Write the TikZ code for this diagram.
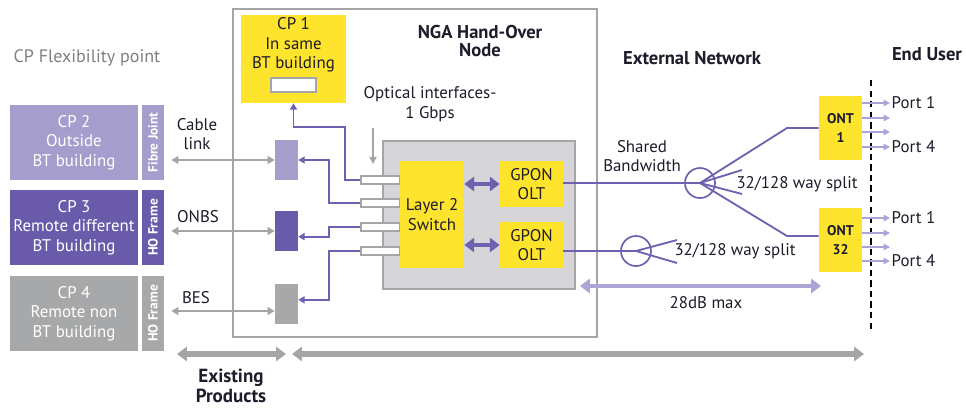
\documentclass[tikz,border=0pt]{standalone}
\usepackage{fontspec}
\setmainfont{PT Sans}
\usetikzlibrary{arrows.meta,positioning}

\definecolor{cplight}{RGB}{165,157,204}
\definecolor{cpdark}{RGB}{106,91,170}
\definecolor{cpgray}{RGB}{167,168,170}
\definecolor{btyellow}{RGB}{255,228,46}
\definecolor{fibrecol}{RGB}{112,96,176}
\definecolor{portcol}{RGB}{172,163,214}
\definecolor{linegray}{RGB}{165,165,167}
\definecolor{boxgray}{RGB}{214,214,216}
\definecolor{txt}{RGB}{28,28,42}

\begin{document}
\begin{tikzpicture}[x=0.025cm, y=-0.025cm,
  every node/.style={font=\fontsize{12}{13.8}\selectfont, text=txt},
  cp/.style={rectangle, align=center, text=white, inner sep=0pt,
             minimum width=3.2cm, minimum height=1.875cm},
  frame/.style={rectangle, text=white, inner sep=0pt, rotate=90,
                minimum width=1.875cm, minimum height=0.55cm,
                font=\fontsize{9.5}{11}\selectfont\bfseries},
  yel/.style={rectangle, fill=btyellow, align=center, inner sep=0pt},
  small/.style={rectangle, inner sep=0pt, minimum width=0.575cm, minimum height=1cm},
  port/.style={rectangle, draw=linegray, fill=white, line width=0.8pt, inner sep=0pt,
               minimum width=0.975cm, minimum height=0.2cm},
  head/.style={font=\fontsize{13.2}{13.2}\selectfont\bfseries},
  fibre/.style={draw=fibrecol, line width=1.3pt},
  tofib/.style={fibre, -{Triangle[width=5pt,length=4.5pt]}},
  link/.style={draw=linegray, line width=1.3pt,
               {Triangle[width=5.5pt,length=5pt]}-{Triangle[width=5.5pt,length=5pt]}},
  fat/.style={line width=3pt,
              {Triangle[width=10pt,length=7pt]}-{Triangle[width=10pt,length=7pt]}},
  portarrow/.style={draw=portcol, line width=1pt, -{Triangle[width=4.5pt,length=4.5pt]}}
]
\useasboundingbox (0,0) rectangle (966,408);

\node[text=gray, font=\fontsize{12.8}{14}\selectfont] (flex) at (87,58) {CP Flexibility point};

\node[cp, fill=cplight] (cp2) at (74,142.5) {CP 2\\Outside\\BT building};
\node[frame, fill=cplight] (fj2) at (153,142.5) {Fibre Joint};
\node[cp, fill=cpdark] (cp3) at (74,227.5) {CP 3\\Remote different\\BT building};
\node[frame, fill=cpdark] (ho3) at (153,227.5) {HO Frame};
\node[cp, fill=cpgray] (cp4) at (74,313.5) {CP 4\\Remote non\\BT building};
\node[frame, fill=cpgray] (ho4) at (153,313.5) {HO Frame};

\node[draw=linegray, line width=1.4pt, minimum width=9.1cm, minimum height=8.2cm] (nga) at (415,173) {};
\node[head, align=center] (ngatitle) at (480,41) {NGA Hand-Over\\Node};

\node[yel, minimum width=2.625cm, minimum height=2.2cm] (cp1) at (293.5,59) {};
\node[align=center] (cp1text) at (293.5,45) {CP 1\\In same\\BT building};
\node[draw=linegray, fill=white, line width=1pt, minimum width=1.125cm, minimum height=0.35cm] (cp1port) at (293.5,85) {};

\node[small, fill=cplight] (s2) at (286.5,160) {};
\node[small, fill=cpdark] (s3) at (286.5,231) {};
\node[small, fill=cpgray] (s4) at (286.5,304) {};

\draw[link, shorten <=5pt] (s2.west -| fj2.south) -- (s2.west);
\draw[link, shorten <=5pt] (s3.west -| ho3.south) -- (s3.west);
\draw[link, shorten <=5pt] ([yshift=-5pt]s4.west -| ho4.south) -- ([yshift=-5pt]s4.west);
\node[align=center] (cable) at (197,134) {Cable\\link};
\node (onbs) at (198,217) {ONBS};
\node (bes) at (196,298) {BES};

\node[draw=linegray, fill=boxgray, line width=1.4pt, minimum width=4.8cm, minimum height=3.7cm] (sw) at (479,215) {};
\foreach \y/\n in {180/1,203/2,227/3,251/4}
  \node[port] (p\n) at (380.5,\y) {};
\node[yel, minimum width=1.6cm, minimum height=2.675cm] (l2) at (432,214.5) {Layer 2\\Switch};
\node[yel, minimum width=1.575cm, minimum height=1.15cm] (olt1) at (531.5,184) {GPON\\OLT};
\node[yel, minimum width=1.575cm, minimum height=1.15cm] (olt2) at (531.5,245) {GPON\\OLT};
\draw[fat, draw=fibrecol] (l2.east |- olt1.west) -- (olt1.west);
\draw[fat, draw=fibrecol] (l2.east |- olt2.west) -- (olt2.west);

\draw[tofib] (p1.west) -- (345,180) -- (345,127) -| (cp1.south);
\draw[tofib] (p2.west) -- (329,203) |- (s2.east);
\draw[tofib] (p3.west) -- (329,227) |- ([yshift=-4pt]s3.east);
\draw[tofib] (p4.west) -- (329,251) |- ([yshift=3pt]s4.east);

\node[align=center] (optical) at (430,104) {Optical interfaces-\\1 Gbps};
\coordinate (optin) at (373,128);
\draw[draw=linegray, line width=1.2pt, -{Triangle[width=5pt,length=5pt]}] (optin) -- (optin |- 0,164);

\node[head] (extnet) at (692,58) {External Network};
\node[head] (enduser) at (927,54) {End User};

\node[circle, draw=fibrecol, line width=1.2pt, minimum size=0.75cm, inner sep=0pt] (sp1) at (700,183) {};
\node[circle, draw=fibrecol, line width=1.2pt, minimum size=0.75cm, inner sep=0pt] (sp2) at (636,251) {};
\node[yel, minimum width=1.075cm, minimum height=1.6cm, font=\fontsize{10}{13}\selectfont\bfseries] (ont1) at (840.5,128) {ONT\\1};
\node[yel, minimum width=1.075cm, minimum height=1.6cm, font=\fontsize{10}{13}\selectfont\bfseries] (ont32) at (840.5,240) {ONT\\32};

\draw[fibre] (olt1.east |- sp1.center) -- (sp1.center);
\draw[fibre] (olt2.east |- sp2.center) -- (sp2.center);
\coordinate (f1a) at (742,170);
\coordinate (f1b) at (742,194);
\coordinate (f2a) at (677,240);
\coordinate (f2b) at (677,263);
\draw[fibre] (sp1.center) -- (787,128) -- (ont1.west);
\draw[fibre] (sp1.center) -- (787,236) -- (ont32.west |- 787,236);
\draw[fibre] (sp1.center) -- (f1a);
\draw[fibre] (sp1.center) -- (f1b);
\draw[fibre] (sp2.center) -- (f2a);
\draw[fibre] (sp2.center) -- (f2b);

\node[align=center] (shared) at (642,156) {Shared\\Bandwidth};
\node (split1) at (797,184) {32/128 way split};
\node (split2) at (735,251) {32/128 way split};

\coordinate (eutop) at (871,80);
\coordinate (eubot) at (871,331);
\draw[black, line width=1.5pt, dash pattern=on 4.5pt off 3pt] (eutop) -- (eubot);

\foreach \y in {103,118,132,147}
  \draw[portarrow] (ont1.east |- 0,\y) -- (890,\y);
\foreach \y in {218,233,247,261}
  \draw[portarrow] (ont32.east |- 0,\y) -- (890,\y);
\node[anchor=west, inner sep=1pt] (o1p1) at (890,103) {Port 1};
\node[anchor=west, inner sep=1pt] (o1p4) at (890,147) {Port 4};
\node[anchor=west, inner sep=1pt] (o32p1) at (890,218) {Port 1};
\node[anchor=west, inner sep=1pt] (o32p4) at (890,261) {Port 4};

\coordinate (dbleft) at (580,286);
\coordinate (dbright) at (821,286);
\draw[fat, draw=portcol] (dbleft) -- (dbright);
\node (db) at (706,303) {28dB max};

\coordinate (exl) at (177,354);
\coordinate (exr) at (286,354);
\coordinate (nwl) at (292,354);
\coordinate (nwr) at (864,354);
\draw[fat, draw=linegray, line width=4pt] (exl) -- (exr);
\draw[fat, draw=linegray, line width=4pt] (nwl) -- (nwr);
\node[head, align=center, font=\fontsize{13.5}{14}\selectfont\bfseries] (exist) at (231,386) {Existing\\Products};
\end{tikzpicture}
\end{document}
